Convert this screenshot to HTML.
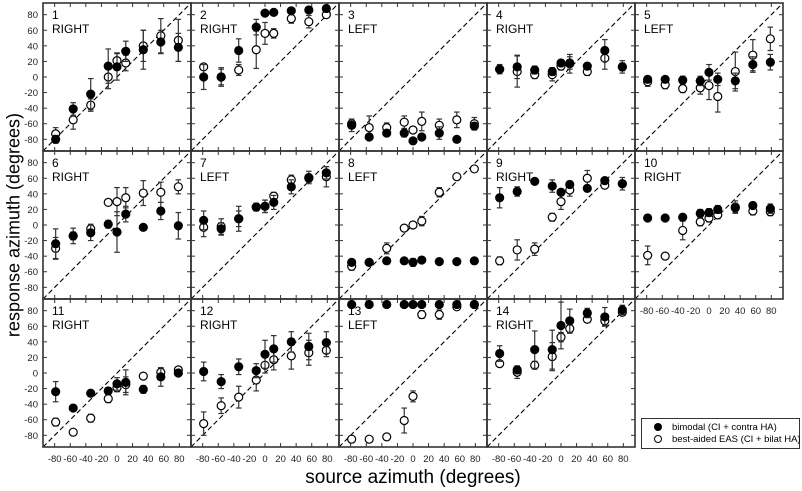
<!DOCTYPE html>
<html><head><meta charset="utf-8"><style>
body{margin:0;background:#fff}
svg{display:block;font-family:"Liberation Sans",sans-serif}
</style></head><body>
<svg id="chart" width="802" height="491" viewBox="0 0 802 491"></svg>
<script>
const azimuths=[-78.75,-56.25,-33.75,-11.25,0,11.25,33.75,56.25,78.75];
const tickVals=[-80,-60,-40,-20,0,20,40,60,80];
const panelIds=[1,2,3,4,5,6,7,8,9,10,11,12,13,14];
const panelSides=["RIGHT","RIGHT","LEFT","RIGHT","LEFT","RIGHT","LEFT","LEFT","RIGHT","RIGHT","RIGHT","RIGHT","LEFT","RIGHT"];
const bimodal=[
[-80,-41,-22,14,13,33,35,45,38],
[0,0,34,64,82,83,85,86,88],
[-62,-77,-72,-72,-82,-77,-72,-80,-63],
[10,13,9,7,18,18,14,34,13],
[-3,-3,-4,-5,6,-3,-5,16,19],
[-24,-14,-10,1,-9,14,-3,18,-1],
[6,-5,8,23,24,29,49,60,67],
[-48,-48,-46,-46,-48,-45,-47,-47,-46],
[35,43,56,50,42,52,47,57,53],
[9,9,10,15,16,20,22,25,21],
[-24,-45,-26,-23,-14,-12,-21,-5,0],
[2,-11,8,3,24,31,40,34,39],
[88,88,88,88,88,88,88,88,88],
[25,4,30,30,61,67,77,72,81]];
const bimodalErr=[
[5,8,20,22,17,13,25,15,18],
[16,10,15,10,0,0,0,0,0],
[8,3,3,5,3,3,8,2,4],
[4,15,5,5,4,8,4,14,5],
[4,3,5,6,10,8,10,10,10],
[19,5,10,5,26,10,3,11,17],
[12,8,10,4,8,9,9,5,8],
[3,3,3,3,5,3,2,2,2],
[13,6,2,8,4,4,4,4,4],
[4,2,4,5,5,5,6,4,6],
[13,2,3,4,8,16,5,12,4],
[12,9,10,9,18,17,13,17,14],
[1,1,1,1,1,1,1,1,1],
[10,5,24,25,30,15,6,12,6]];
const eas=[
[-73,-55,-36,0,21,18,40,53,47],
[13,0,9,35,56,56,75,71,80],
[-60,-65,-65,-58,-68,-57,-62,-55,-60],
[10,7,3,3,14,17,7,24,13],
[-6,-10,-15,-14,-11,-25,7,28,49],
[-30,-14,-5,29,30,35,41,42,49],
[-3,-2,8,23,24,37,58,61,62],
[-53,-48,-30,-4,0,5,42,62,72],
[-46,-32,-31,10,30,45,60,51,53],
[-39,-40,-7,4,9,13,23,18,17],
[-63,-76,-58,-33,-19,-15,-4,1,4],
[-65,-42,-31,-9,10,17,22,26,29],
[-85,-85,-82,-61,-30,75,75,85,88],
[12,1,10,21,46,57,69,67,78]];
const easErr=[
[8,12,8,15,10,10,20,22,27],
[0,12,7,24,14,6,6,8,0],
[6,15,6,8,4,12,8,10,8],
[6,20,5,8,5,12,5,14,8],
[6,5,5,8,18,20,25,20,15],
[14,10,6,3,18,13,16,13,9],
[12,10,16,5,8,5,6,8,13],
[5,4,7,3,3,6,6,3,3],
[5,13,8,5,10,8,10,3,8],
[12,3,12,5,5,5,8,5,5],
[5,2,5,5,5,10,2,5,3],
[15,10,14,14,10,13,17,16,8],
[1,1,1,16,7,5,6,1,1],
[3,8,5,18,6,6,4,6,3]];

const NS="http://www.w3.org/2000/svg";
const svg=document.getElementById('chart');
const SIZE=148,X0=43,Y0=3,DMIN=-95,DMAX=95;
function mk(tag,attrs,parent){const e=document.createElementNS(NS,tag);for(const k in attrs)e.setAttribute(k,attrs[k]);(parent||svg).appendChild(e);return e;}
function sx(px,v){return px+(v-DMIN)/(DMAX-DMIN)*SIZE;}
function sy(py,v){return py+(DMAX-v)/(DMAX-DMIN)*SIZE;}

panelIds.forEach((id,i)=>{
  const c=i%5,r=Math.floor(i/5);
  const px=X0+c*SIZE,py=Y0+r*SIZE;
  const g=mk('g',{});
  
  
  const diag=mk('line',{x1:sx(px,DMIN),y1:sy(py,DMIN),x2:sx(px,DMAX),y2:sy(py,DMAX),stroke:'#000','stroke-width':1.1,'stroke-dasharray':'5,3'},g);
  
  
  tickVals.forEach(t=>{
    const x=sx(px,t),y=sy(py,t);
    mk('line',{x1:x,y1:py,x2:x,y2:py+4,stroke:'#333','stroke-width':1},g);
    mk('line',{x1:x,y1:py+SIZE,x2:x,y2:py+SIZE-4,stroke:'#333','stroke-width':1},g);
    mk('line',{x1:px,y1:y,x2:px+4,y2:y,stroke:'#333','stroke-width':1},g);
    mk('line',{x1:px+SIZE,y1:y,x2:px+SIZE-4,y2:y,stroke:'#333','stroke-width':1},g);
  });
  const frame=mk('rect',{x:px,y:py,width:SIZE,height:SIZE,fill:'none',stroke:'#333','stroke-width':1.6},g);
  
  
  const t1=mk('text',{x:px+9,y:py+16,'font-size':12},g);t1.textContent=id;
  
  
  const t2=mk('text',{x:px+9,y:py+30,'font-size':12},g);t2.textContent=panelSides[i];
  
  
  if(c===0){tickVals.forEach(t=>{const l=mk('text',{x:px-5,y:sy(py,t)+3.5,'font-size':9.5,'text-anchor':'end',fill:'#222'});l.textContent=t;
    
    });}
  if(r===2||id===10){tickVals.forEach(t=>{const l=mk('text',{x:sx(px,t),y:py+SIZE+15,'font-size':9.5,'text-anchor':'middle',fill:'#222'});l.textContent=t;
    
    });}
  [[eas[i],easErr[i],false],[bimodal[i],bimodalErr[i],true]].forEach(([vals,errs,filled])=>{
    vals.forEach((v,j)=>{
      const x=sx(px,azimuths[j]),y=sy(py,v),e=errs[j];
      if(e>1){
        const y1=sy(py,v+e),y2=sy(py,v-e);
        mk('line',{x1:x,y1:y1,x2:x,y2:y2,stroke:'#333','stroke-width':1.2},g);
        mk('line',{x1:x-2.8,y1:y1,x2:x+2.8,y2:y1,stroke:'#333','stroke-width':1.2},g);
        mk('line',{x1:x-2.8,y1:y2,x2:x+2.8,y2:y2,stroke:'#333','stroke-width':1.2},g);
      }
      const m=mk('circle',{cx:x,cy:y,r:4,fill:filled?'#000':'#fff',stroke:'#000','stroke-width':1.2},g);
      
      
    });
  });
});
</script>
<div style="position:absolute;left:0;top:0;width:802px;height:491px;pointer-events:none">
<div style="position:absolute;left:14px;top:225px;transform:translate(-50%,-50%) rotate(-90deg);font:18px 'Liberation Sans',sans-serif;white-space:nowrap">response azimuth (degrees)</div>
<div style="position:absolute;left:413px;top:478px;transform:translate(-50%,-50%);font:19px 'Liberation Sans',sans-serif;white-space:nowrap">source azimuth (degrees)</div>
<div style="position:absolute;left:641px;top:418px;width:157px;height:29px;border:1px solid #333;font:9.5px 'Liberation Sans',sans-serif">
 <div style="position:absolute;left:12px;top:3px;white-space:nowrap"><span style="display:inline-block;width:8px;height:8px;border-radius:50%;background:#000;vertical-align:-1px;margin-right:10px"></span>bimodal (CI + contra HA)</div>
 <div style="position:absolute;left:12px;top:15px;white-space:nowrap"><span style="display:inline-block;width:6px;height:6px;border-radius:50%;border:1.2px solid #000;vertical-align:-1px;margin-right:10px"></span>best-aided EAS (CI + bilat HA)</div>
</div>
</div>
</body></html>
